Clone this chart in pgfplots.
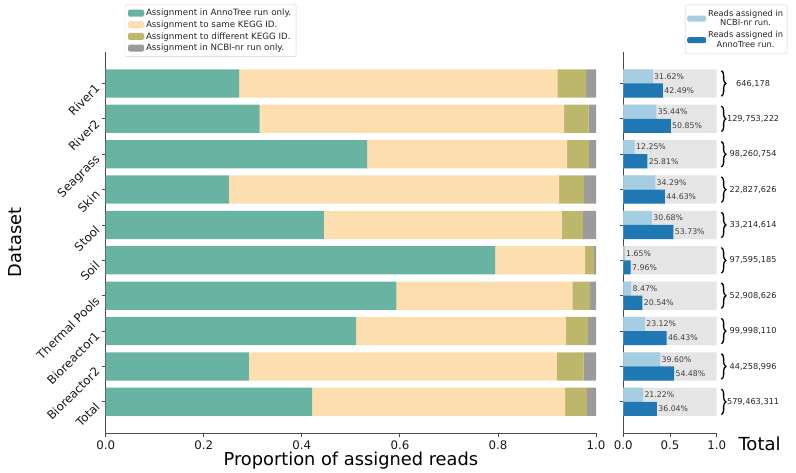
\documentclass[border=0pt]{standalone}
\usepackage{fontspec}
\setmainfont{DejaVu Sans}
\usepackage{pgfplots}
\pgfplotsset{compat=1.18}
\usetikzlibrary{decorations.pathreplacing}
\definecolor{cTeal}{HTML}{69B3A2}
\definecolor{cPeach}{HTML}{FDDEAF}
\definecolor{cKhaki}{HTML}{BDB76B}
\definecolor{cGrayS}{HTML}{9B9B9B}
\definecolor{cLight}{HTML}{A6CEE3}
\definecolor{cDark}{HTML}{1F78B4}
\definecolor{cBg}{HTML}{E5E5E5}
\definecolor{cAxis}{HTML}{4A4A4A}
\begin{document}
\begin{tikzpicture}
\useasboundingbox (0bp,0bp) rectangle (796bp,473bp);
\pgfplotsset{
  common/.style={
    scale only axis, anchor=south west,
    height=381.3bp,
    ymin=-0.89, ymax=9.89, y dir=reverse,
    ytick={0,1,2,3,4,5,6,7,8,9},
    axis x line*=bottom, axis y line*=left,
    axis line style={-, cAxis, line width=0.8bp},
    tick style={cAxis, line width=0.8bp},
    tick align=outside, major tick length=3.5bp,
    ticklabel style={font=\fontsize{11.8bp}{13bp}\selectfont, text=black!90},
    /pgf/number format/assume math mode=true,
    /pgf/number format/fixed, /pgf/number format/fixed zerofill,
    /pgf/number format/precision=1,
    clip=false,
  },
}
% ---------------- left panel ----------------
\begin{axis}[common,
  at={(105.7bp,39.7bp)}, width=490.3bp,
  xmin=0, xmax=1, xtick={0,0.2,0.4,0.6,0.8,1},
  yticklabels={River1,River2,Seagrass,Skin,Stool,Soil,Thermal Pools,Bioreactor1,Bioreactor2,Total},
  yticklabel style={xshift=-8bp, yshift=2bp, rotate=45, anchor=north east, inner sep=1bp},
  xbar stacked, bar width=0.8,
  legend image code/.code={\fill[#1] (0bp,-3.5bp) rectangle (16bp,3.5bp);},
  xlabel={Proportion of assigned reads},
  xlabel style={font=\fontsize{17.8bp}{20bp}\selectfont, at={(axis description cs:0.5,-0.0727)}, anchor=center},
  ylabel={Dataset},
  ylabel style={font=\fontsize{17.8bp}{20bp}\selectfont, at={(axis description cs:-0.185,0.5)}, anchor=center},
  legend style={at={(axis description cs:0.039,1.125)}, anchor=north west,
    draw=black!18, rounded corners=2bp, fill=white,
    font=\fontsize{8.7bp}{10bp}\selectfont, text=black!85,
    inner xsep=3bp, inner ysep=2.5bp, row sep=-0.4bp},
  legend cell align=left,
]
\addplot[fill=cTeal, draw=none] coordinates {(0.272,0) (0.314,1) (0.533,2) (0.251,3) (0.445,4) (0.794,5) (0.593,6) (0.511,7) (0.292,8) (0.421,9)};
\addlegendentry{Assignment in AnnoTree run only.}
\addplot[fill=cPeach, draw=none] coordinates {(0.649,0) (0.621,1) (0.408,2) (0.674,3) (0.485,4) (0.184,5) (0.359,6) (0.427,7) (0.628,8) (0.516,9)};
\addlegendentry{Assignment to same KEGG ID.}
\addplot[fill=cKhaki, draw=none] coordinates {(0.059,0) (0.050,1) (0.045,2) (0.051,3) (0.043,4) (0.018,5) (0.036,6) (0.046,7) (0.055,8) (0.045,9)};
\addlegendentry{Assignment to different KEGG ID.}
\addplot[fill=cGrayS, draw=none] coordinates {(0.020,0) (0.015,1) (0.014,2) (0.024,3) (0.027,4) (0.004,5) (0.012,6) (0.016,7) (0.025,8) (0.018,9)};
\addlegendentry{Assignment in NCBI-nr run only.}
\end{axis}
% ---------------- right panel ----------------
\begin{axis}[common,
  at={(623.3bp,39.7bp)}, width=93.4bp,
  xmin=0, xmax=1, xtick={0,0.5,1},
  yticklabels={},
  xbar,
  legend image code/.code={\fill[#1] (0bp,-3bp) rectangle (19bp,3bp);},
  legend style={at={(axis description cs:0.66,1.124)}, anchor=north west,
    draw=black!18, rounded corners=2bp, fill=white,
    font=\fontsize{8.3bp}{9.7bp}\selectfont, text=black!85,
    inner xsep=2bp, inner ysep=3bp, row sep=0bp,
    cells={align=center}},
  nodes near coords style={font=\fontsize{7.8bp}{8bp}\selectfont, text=black!75, anchor=west, inner sep=1.2bp},
]
\addplot[fill=cBg, draw=none, bar width=0.8, bar shift=0, forget plot] coordinates {(1,0) (1,1) (1,2) (1,3) (1,4) (1,5) (1,6) (1,7) (1,8) (1,9)};
\addplot[fill=cLight, draw=none, bar width=0.4, bar shift=0, nodes near coords, point meta=explicit symbolic]
 coordinates {(0.3162,-0.2)[31.62\%] (0.3544,0.8)[35.44\%] (0.1225,1.8)[12.25\%] (0.3429,2.8)[34.29\%] (0.3068,3.8)[30.68\%] (0.0165,4.8)[1.65\%] (0.0847,5.8)[8.47\%] (0.2312,6.8)[23.12\%] (0.3960,7.8)[39.60\%] (0.2122,8.8)[21.22\%]};
\addlegendentry{Reads assigned in\\NCBI-nr run.}
\addplot[fill=cDark, draw=none, bar width=0.4, bar shift=0, nodes near coords, point meta=explicit symbolic]
 coordinates {(0.4249,0.2)[42.49\%] (0.5085,1.2)[50.85\%] (0.2581,2.2)[25.81\%] (0.4463,3.2)[44.63\%] (0.5373,4.2)[53.73\%] (0.0796,5.2)[7.96\%] (0.2054,6.2)[20.54\%] (0.4643,7.2)[46.43\%] (0.5448,8.2)[54.48\%] (0.3604,9.2)[36.04\%]};
\addlegendentry{Reads assigned in\\AnnoTree run.}
\tikzset{br/.style={decorate, decoration={brace, amplitude=4.5bp}, line width=1.3bp, black}}
\draw[br] (axis cs:1.05,-0.36) -- (axis cs:1.05,0.36);
\draw[br] (axis cs:1.05,0.64) -- (axis cs:1.05,1.36);
\draw[br] (axis cs:1.05,1.64) -- (axis cs:1.05,2.36);
\draw[br] (axis cs:1.05,2.64) -- (axis cs:1.05,3.36);
\draw[br] (axis cs:1.05,3.64) -- (axis cs:1.05,4.36);
\draw[br] (axis cs:1.05,4.64) -- (axis cs:1.05,5.36);
\draw[br] (axis cs:1.05,5.64) -- (axis cs:1.05,6.36);
\draw[br] (axis cs:1.05,6.64) -- (axis cs:1.05,7.36);
\draw[br] (axis cs:1.05,7.64) -- (axis cs:1.05,8.36);
\draw[br] (axis cs:1.05,8.64) -- (axis cs:1.05,9.36);
\tikzset{num/.style={anchor=center, font=\fontsize{8.2bp}{9bp}\selectfont, text=black!85}}
\node[num] at (axis cs:1.39,0) {646,178};
\node[num] at (axis cs:1.39,1) {129,753,222};
\node[num] at (axis cs:1.39,2) {98,260,754};
\node[num] at (axis cs:1.39,3) {22,827,626};
\node[num] at (axis cs:1.39,4) {33,214,614};
\node[num] at (axis cs:1.39,5) {97,595,185};
\node[num] at (axis cs:1.39,6) {52,908,626};
\node[num] at (axis cs:1.39,7) {99,998,110};
\node[num] at (axis cs:1.39,8) {44,258,996};
\node[num] at (axis cs:1.39,9) {579,463,311};
\end{axis}
\node[anchor=base west, font=\fontsize{18bp}{20bp}\selectfont] at (735bp,23bp) {Total};
\end{tikzpicture}
\end{document}
